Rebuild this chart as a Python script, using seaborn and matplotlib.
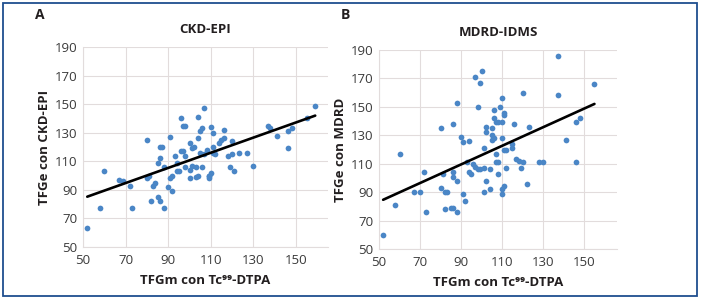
import numpy as np
import pandas as pd
import matplotlib.pyplot as plt
import seaborn as sns
from matplotlib.patches import Rectangle

# Panel A: measured GFR vs CKD-EPI estimate
ckd_x = [80, 86, 87, 91, 96, 97, 98, 104, 107, 100, 104, 105, 106, 110, 111, 116, 116, 120,
         137, 138, 141, 146, 148, 146, 155, 159, 60, 67, 69, 72, 86, 85, 93, 96, 97, 98,
         101, 102, 105, 108, 94, 94, 95, 98, 100, 103, 104, 101, 100, 103, 109, 91, 92,
         80, 81, 83, 84, 88, 90, 58, 73, 52, 82, 85, 86, 88, 92, 127, 123, 130, 121, 119,
         118, 120, 115, 114, 111, 111, 112, 106, 110, 109, 109, 107]
ckd_y = [125, 120, 120, 127, 140, 135, 135, 141, 147, 123, 126, 131, 133, 134, 130, 132, 126, 124,
         135, 133, 128, 131, 133, 119, 140, 149, 103, 97, 96, 93, 112, 109, 114, 117, 117, 114,
         119, 120, 116, 118, 109, 103, 103, 106, 104, 106, 100, 107, 98, 99, 100, 98, 100,
         98, 100, 93, 95, 106, 92, 77, 77, 63, 82, 85, 82, 77, 89, 116, 116, 107, 103, 106,
         114, 115, 125, 123, 120, 116, 115, 106, 102, 100, 98, 115]

# Panel B: measured GFR vs MDRD-IDMS estimate
mdrd_x = [100, 97, 99, 88, 98, 110, 106, 109, 111, 111, 106, 107, 108, 110, 116, 80, 86, 102,
          105, 102, 90, 91, 94, 105, 106, 105, 110, 101, 137, 137, 155, 120, 123, 148, 146,
          141, 115, 115, 60, 52, 58, 73, 82, 85, 86, 88, 72, 67, 70, 80, 82, 83, 81, 86, 86,
          88, 91, 92, 107, 93, 96, 97, 98, 99, 94, 95, 101, 104, 107, 108, 108, 112, 102,
          104, 101, 110, 110, 111, 112, 118, 111, 117, 120, 119, 128, 130, 146, 122]
mdrd_y = [175, 171, 167, 153, 150, 156, 148, 150, 146, 144, 142, 139, 139, 139, 138, 135, 138, 136,
          135, 132, 129, 125, 126, 130, 128, 127, 128, 121, 186, 158, 166, 160, 136, 142, 139,
          127, 124, 121, 117, 60, 81, 76, 78, 79, 79, 76, 104, 90, 90, 93, 90, 90, 103, 101, 104,
          98, 89, 84, 117, 111, 110, 108, 106, 106, 104, 103, 107, 106, 111, 111, 103, 107, 98,
          92, 90, 92, 89, 94, 120, 112, 120, 113, 111, 107, 111, 111, 111, 96]

x_ticks = [50, 70, 90, 110, 130, 150]
y_ticks = [50, 70, 90, 110, 130, 150, 170, 190]

sns.set_theme(style='whitegrid')
plt.rcParams['font.family'] = ['Open Sans', 'DejaVu Sans']

point_color = '#4a86c6'
grid_color = '#e2dcdc'
text_color = '#231f20'

fig = plt.figure(figsize=(7.01, 3.0), dpi=100)

panels = [
    ('A', 'CKD-EPI', 'TFGe con CKD-EPI', ckd_x, ckd_y, [0.1184, 0.1767, 0.3495, 0.6667], 165),
    ('B', 'MDRD-IDMS', 'TFGe con MDRD', mdrd_x, mdrd_y, [0.5407, 0.17, 0.3395, 0.6633], 166),
]

for letter, title, ylabel, xs, ys, pos, xmax in panels:
    df = pd.DataFrame({'x': xs, 'y': ys})
    ax = fig.add_axes(pos)
    sns.regplot(data=df, x='x', y='y', ax=ax, ci=None, truncate=True,
                scatter_kws=dict(s=17, color=point_color, linewidths=0, alpha=1),
                line_kws=dict(color='black', lw=1.9))
    ax.set_xlim(50, xmax)
    ax.set_ylim(50, 190)
    ax.set_xticks(x_ticks)
    ax.set_yticks(y_ticks)
    ax.grid(True, color=grid_color, lw=0.8)
    for side in ['top', 'right']:
        ax.spines[side].set_visible(False)
    for side in ['left', 'bottom']:
        ax.spines[side].set_color(grid_color)
        ax.spines[side].set_linewidth(0.8)
    ax.tick_params(axis='both', length=0, labelsize=9.5, labelcolor='#3a3a3a')
    ax.tick_params(axis='x', pad=5)
    ax.tick_params(axis='y', pad=4)
    ax.set_title(title, fontsize=9.5, fontweight='bold', color=text_color, pad=10)
    ax.set_ylabel(ylabel, fontsize=9.5, fontweight='bold', color=text_color, labelpad=3)
    ax.set_xlabel('TFGm con Tc⁹⁹-DTPA', fontsize=9.5, fontweight='bold',
                  color=text_color, labelpad=5)
    ax.set_axisbelow(True)

fig.text(40 / 701, 1 - 15 / 300, 'A', fontsize=10, fontweight='bold', color=text_color,
         ha='center', va='center')
fig.text(345 / 701, 1 - 15 / 300, 'B', fontsize=10, fontweight='bold', color=text_color,
         ha='center', va='center')

# blue frame round the figure
fig.patches.append(Rectangle((3 / 701, 4 / 300), 694 / 701, 293 / 300, transform=fig.transFigure,
                             fill=False, edgecolor='#1f4e8f', lw=1.3))

fig.savefig('out.png', dpi=100)
